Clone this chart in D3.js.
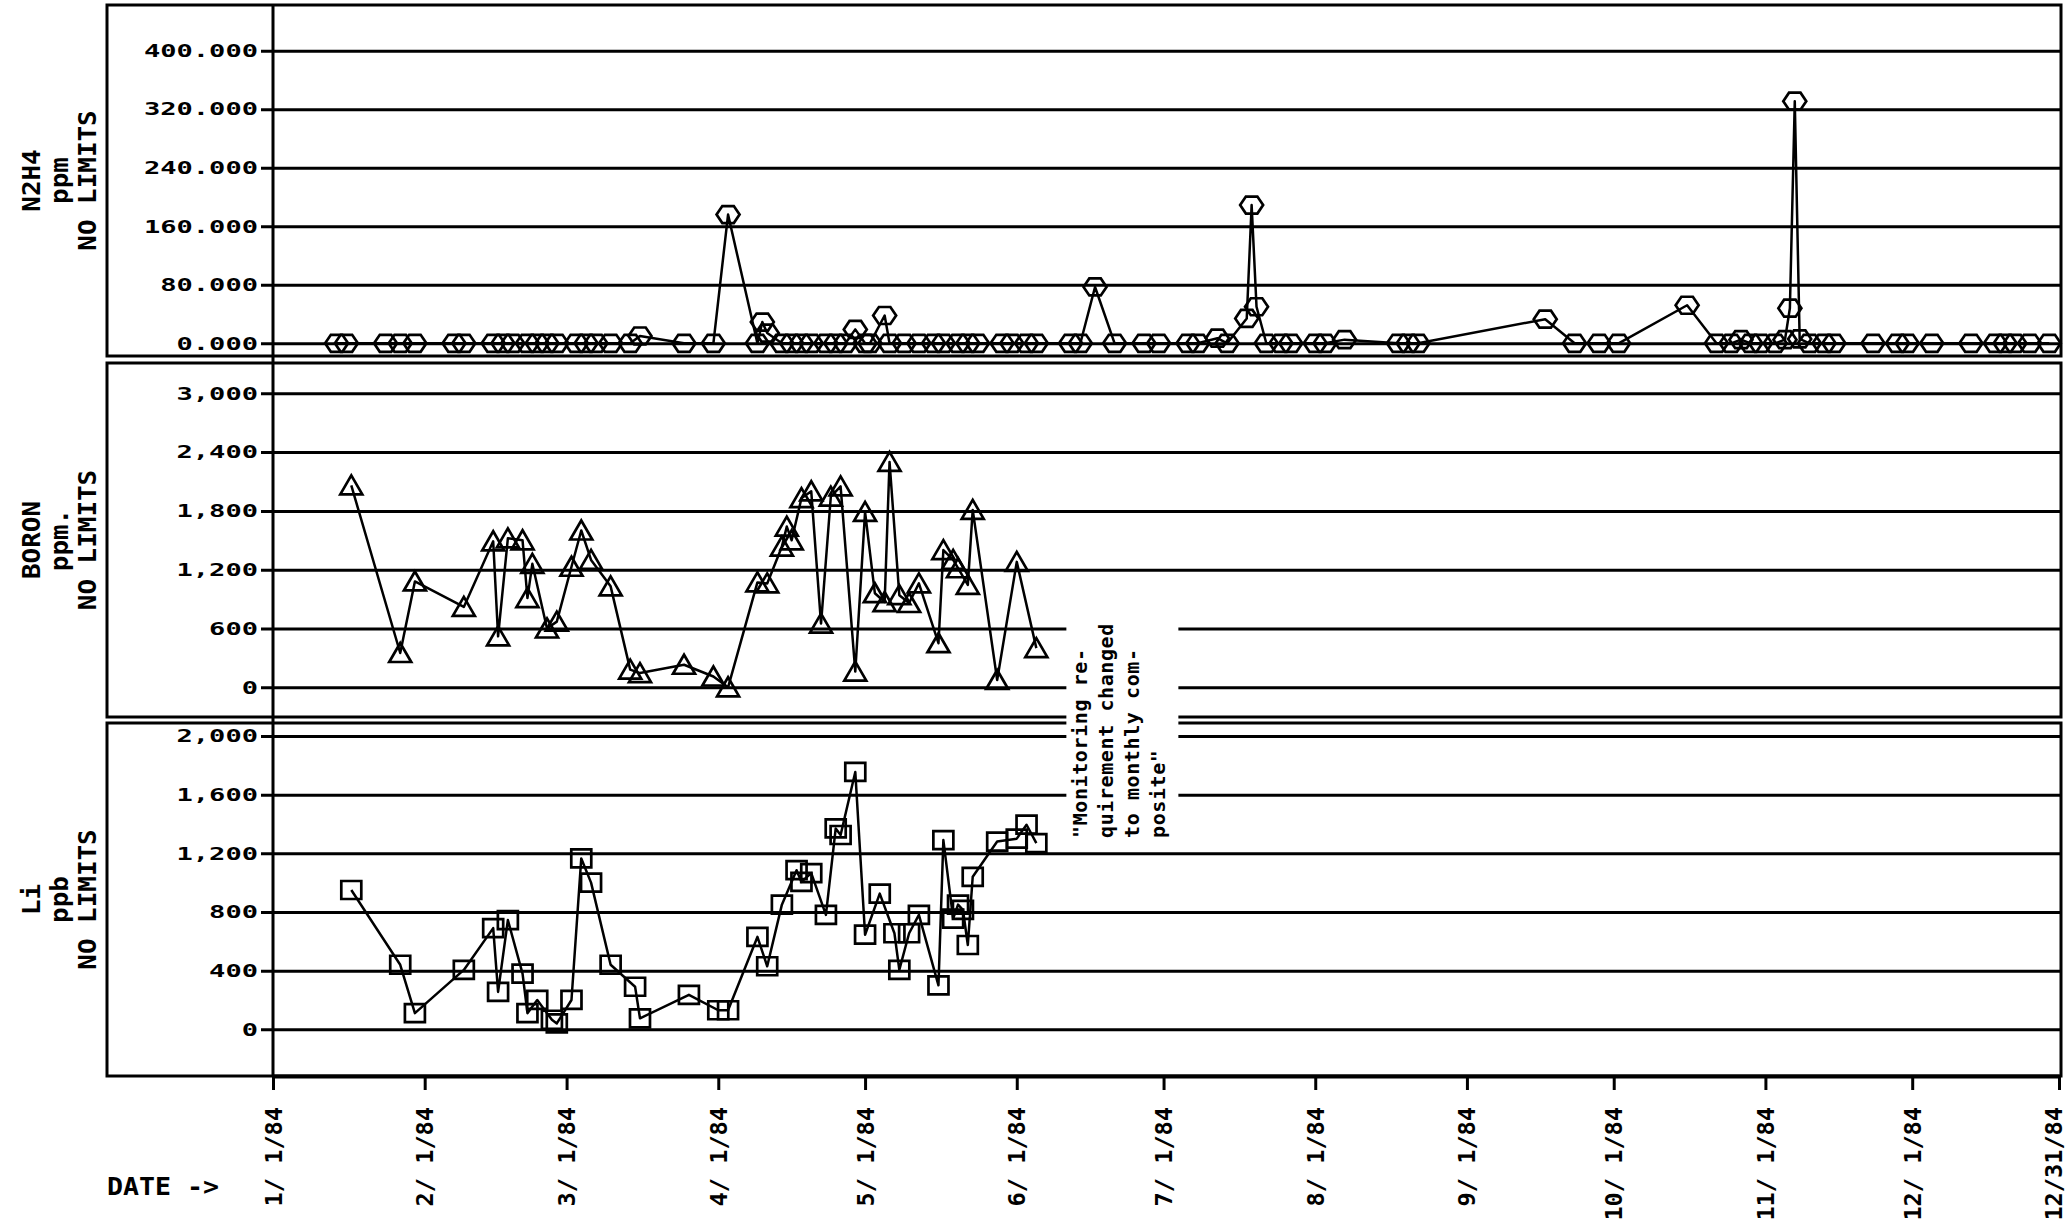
<!DOCTYPE html>
<html>
<head>
<meta charset="utf-8">
<script src="https://cdnjs.cloudflare.com/ajax/libs/d3/7.8.5/d3.min.js"></script>
<style>
  body { margin: 0; background: #fff; }
  svg { display: block; }
  text { font-family: "DejaVu Sans Mono", monospace; font-weight: bold; fill: #000; white-space: pre; }
</style>
</head>
<body>
<script>
const width = 2068, height = 1223;

// 1984 sample dates (MM-DD) and readings
const n2h4 = [
  ["01-14", 0], ["01-16", 0], ["01-24", 0], ["01-27", 0], ["01-30", 0],
  ["02-07", 0], ["02-09", 0], ["02-15", 0], ["02-17", 0], ["02-19", 0],
  ["02-22", 0], ["02-24", 0], ["02-26", 0], ["02-28", 0], ["03-03", 0],
  ["03-05", 0], ["03-07", 0], ["03-10", 0], ["03-14", 0], ["03-16", 10],
  ["03-25", 0], ["03-31", 0], ["04-03", 176], ["04-09", 0], ["04-10", 29],
  ["04-11", 14], ["04-14", 0], ["04-16", 0], ["04-18", 0], ["04-20", 0],
  ["04-23", 0], ["04-25", 0], ["04-27", 0], ["04-29", 19], ["05-01", 0],
  ["05-02", 0], ["05-05", 38], ["05-06", 0], ["05-09", 0], ["05-12", 0],
  ["05-15", 0], ["05-17", 0], ["05-20", 0], ["05-22", 0], ["05-24", 0],
  ["05-29", 0], ["05-31", 0], ["06-03", 0], ["06-05", 0], ["06-12", 0],
  ["06-14", 0], ["06-17", 77], ["06-21", 0], ["06-27", 0], ["06-30", 0],
  ["07-06", 0], ["07-08", 0], ["07-12", 7], ["07-14", 0], ["07-18", 34],
  ["07-19", 189], ["07-20", 50], ["07-22", 0], ["07-25", 0], ["07-27", 0],
  ["08-01", 0], ["08-03", 0], ["08-07", 5], ["08-18", 0], ["08-20", 0],
  ["08-22", 0], ["09-17", 33], ["09-23", 0], ["09-28", 0], ["10-02", 0],
  ["10-16", 52], ["10-22", 0], ["10-25", 0], ["10-27", 5], ["10-29", 0],
  ["10-31", 0], ["11-03", 0], ["11-05", 5], ["11-06", 48], ["11-07", 331],
  ["11-08", 6], ["11-10", 0], ["11-13", 0], ["11-15", 0], ["11-23", 0],
  ["11-28", 0], ["11-30", 0], ["12-05", 0], ["12-13", 0], ["12-18", 0],
  ["12-20", 0], ["12-22", 0], ["12-25", 0], ["12-29", 0]
];

const boron = [
  ["01-17", 2060], ["01-27", 350], ["01-30", 1080], ["02-09", 820], ["02-15", 1490],
  ["02-16", 520], ["02-18", 1520], ["02-21", 1500], ["02-22", 910], ["02-23", 1260],
  ["02-26", 600], ["02-28", 670], ["03-02", 1230], ["03-04", 1600], ["03-06", 1300],
  ["03-10", 1030], ["03-14", 180], ["03-16", 145], ["03-25", 230], ["03-31", 110],
  ["04-03", 0], ["04-09", 1070], ["04-11", 1060], ["04-14", 1435], ["04-15", 1640],
  ["04-16", 1500], ["04-18", 1930], ["04-20", 2000], ["04-22", 650], ["04-24", 1945],
  ["04-26", 2050], ["04-29", 160], ["05-01", 1790], ["05-03", 960], ["05-05", 870],
  ["05-06", 2300], ["05-08", 940], ["05-10", 860], ["05-12", 1060], ["05-16", 450],
  ["05-17", 1400], ["05-19", 1300], ["05-20", 1215], ["05-22", 1045], ["05-23", 1810],
  ["05-28", 75], ["06-01", 1280], ["06-05", 400]
];

const lithium = [
  ["01-17", 950], ["01-27", 440], ["01-30", 110], ["02-09", 405], ["02-15", 690],
  ["02-16", 255], ["02-18", 745], ["02-21", 380], ["02-22", 110], ["02-24", 200],
  ["02-27", 65], ["02-28", 40], ["03-02", 200], ["03-04", 1165], ["03-06", 1000],
  ["03-10", 440], ["03-15", 290], ["03-16", 75], ["03-26", 235], ["04-01", 130],
  ["04-03", 130], ["04-09", 630], ["04-11", 430], ["04-14", 850], ["04-17", 1085],
  ["04-18", 1005], ["04-20", 1065], ["04-23", 780], ["04-25", 1370], ["04-26", 1325],
  ["04-29", 1755], ["05-01", 645], ["05-04", 925], ["05-07", 655], ["05-08", 405],
  ["05-10", 655], ["05-12", 780], ["05-16", 300], ["05-17", 1290], ["05-19", 755],
  ["05-20", 850], ["05-21", 815], ["05-22", 575], ["05-23", 1040], ["05-28", 1280],
  ["06-01", 1300], ["06-03", 1395], ["06-05", 1270]
];

const n2h4Ticks = [0, 80, 160, 240, 320, 400];
const boronTicks = [0, 600, 1200, 1800, 2400, 3000];
const liTicks = [0, 400, 800, 1200, 1600, 2000];
const dateTicks = ["01-01", "02-01", "03-01", "04-01", "05-01", "06-01", "07-01",
  "08-01", "09-01", "10-01", "11-01", "12-01", "12-31"];
const titles = [["N2H4", "ppm", "NO LIMITS"], ["BORON", "ppm.", "NO LIMITS"], ["Li", "ppb", "NO LIMITS"]];
const note = ['"Monitoring re-', "quirement changed", "to monthly com-", 'posite"'];
const noteDate = "06-14";

const parse = d3.timeParse("%Y-%m-%d");
const day = s => parse("1984-" + s);

const left = 107, inner = 273, right = 2061;
const x = d3.scaleTime().domain([day("01-01"), day("12-31")]).range([inner, 2059]);

// custom plotter markers
const hexagon = { draw(c) { const w = 11.5, h = 8.5;
  c.moveTo(-w, 0); c.lineTo(-w / 2, -h); c.lineTo(w / 2, -h); c.lineTo(w, 0);
  c.lineTo(w / 2, h); c.lineTo(-w / 2, h); c.closePath(); } };
const triangle = { draw(c) { c.moveTo(0, -10); c.lineTo(11, 9); c.lineTo(-11, 9); c.closePath(); } };
const square = { draw(c) { c.moveTo(-10, -9); c.lineTo(10, -9); c.lineTo(10, 9); c.lineTo(-10, 9); c.closePath(); } };

const panels = [
  { data: n2h4, ticks: n2h4Ticks, fmt: d3.format(".3f"), title: titles[0], top: 5, bottom: 356, y0: 343.3, y1: 50.7, sym: hexagon },
  { data: boron, ticks: boronTicks, fmt: d3.format(","), title: titles[1], top: 363, bottom: 717, y0: 687.3, y1: 393.3, sym: triangle },
  { data: lithium, ticks: liTicks, fmt: d3.format(","), title: titles[2], top: 723, bottom: 1076, y0: 1029.3, y1: 736, sym: square }
];

const svg = d3.select("body").append("svg").attr("width", width).attr("height", height);
svg.append("rect").attr("width", width).attr("height", height).attr("fill", "#fff");

const plots = [];
panels.forEach(p => {
  const y = d3.scaleLinear().domain([0, d3.max(p.ticks)]).range([p.y0, p.y1]);
  const g = svg.append("g");

  g.append("rect")
    .attr("x", left).attr("y", p.top)
    .attr("width", right - left).attr("height", p.bottom - p.top)
    .attr("fill", "none").attr("stroke", "#000").attr("stroke-width", 3);

  const ax = g.append("g")
    .attr("transform", `translate(${right},0)`)
    .call(d3.axisLeft(y).tickValues(p.ticks).tickFormat(p.fmt).tickSize(right - 261).tickPadding(3))
    .attr("font-size", 18);
  ax.select(".domain").remove();
  ax.selectAll(".tick line").attr("stroke", "#000").attr("stroke-width", 3);
  ax.selectAll(".tick text")
    .attr("textLength", d => p.fmt(d).length * 16.3)
    .attr("lengthAdjust", "spacingAndGlyphs");

  const mid = (p.top + p.bottom) / 2;
  g.selectAll(".title").data(p.title).join("text")
    .attr("class", "title")
    .attr("transform", (d, i) => `translate(${31 + i * 28},${mid}) rotate(-90)`)
    .attr("text-anchor", "middle").attr("dy", "0.35em")
    .attr("font-size", 25)
    .attr("textLength", d => d.length * 15.6)
    .attr("lengthAdjust", "spacingAndGlyphs")
    .text(d => d);

  plots.push({ p, y, g });
});

// note about monitoring change, with white backing that breaks the grid
const noteG = svg.append("g");
const noteText = noteG.append("g");
noteText.selectAll("text").data(note).join("text")
  .attr("transform", (d, i) => `translate(${x(day(noteDate)) + i * 26},838) rotate(-90)`)
  .attr("dy", "0.35em")
  .attr("font-size", 20)
  .attr("letter-spacing", 0.6)
  .text(d => d);
const bb = noteText.node().getBBox();
noteG.insert("rect", ":first-child")
  .attr("x", bb.x - 2).attr("y", bb.y - 3)
  .attr("width", bb.width + 10).attr("height", bb.height + 6)
  .attr("fill", "#fff");

// series
plots.forEach(({ p, y, g }) => {
  const pts = p.data.map(([d, v]) => ({ date: day(d), value: v }));
  g.append("path").datum(pts)
    .attr("fill", "none").attr("stroke", "#000").attr("stroke-width", 2.5)
    .attr("stroke-linejoin", "round")
    .attr("d", d3.line().x(d => x(d.date)).y(d => y(d.value)));
  g.selectAll(".mark").data(pts).join("path")
    .attr("class", "mark")
    .attr("transform", d => `translate(${x(d.date)},${y(d.value)})`)
    .attr("d", d3.symbol(p.sym))
    .attr("fill", "none").attr("stroke", "#000").attr("stroke-width", 2.7);
});

// vertical plot edge
svg.append("line")
  .attr("x1", inner).attr("x2", inner).attr("y1", 5).attr("y2", 1076)
  .attr("stroke", "#000").attr("stroke-width", 3);

// date axis
const gx = svg.append("g")
  .attr("transform", "translate(0,1076)")
  .call(d3.axisBottom(x).tickValues(dateTicks.map(day))
    .tickFormat(d3.timeFormat("%_m/%_d/%y")).tickSize(14).tickSizeOuter(0))
  .attr("font-size", 23);
gx.select(".domain").attr("stroke", "#000").attr("stroke-width", 4);
gx.selectAll(".tick line").attr("stroke", "#000").attr("stroke-width", 3);
gx.selectAll(".tick text")
  .attr("transform", "rotate(-90)")
  .attr("text-anchor", "end")
  .attr("x", -31).attr("y", 0)
  .attr("dy", (d, i, n) => i === n.length - 1 ? "0.12em" : "0.35em")
  .attr("textLength", 8 * 14.2)
  .attr("lengthAdjust", "spacingAndGlyphs");

svg.append("text")
  .attr("x", left).attr("y", 1195)
  .attr("font-size", 24)
  .attr("textLength", 7 * 16)
  .attr("lengthAdjust", "spacingAndGlyphs")
  .text("DATE ->");
</script>
</body>
</html>
